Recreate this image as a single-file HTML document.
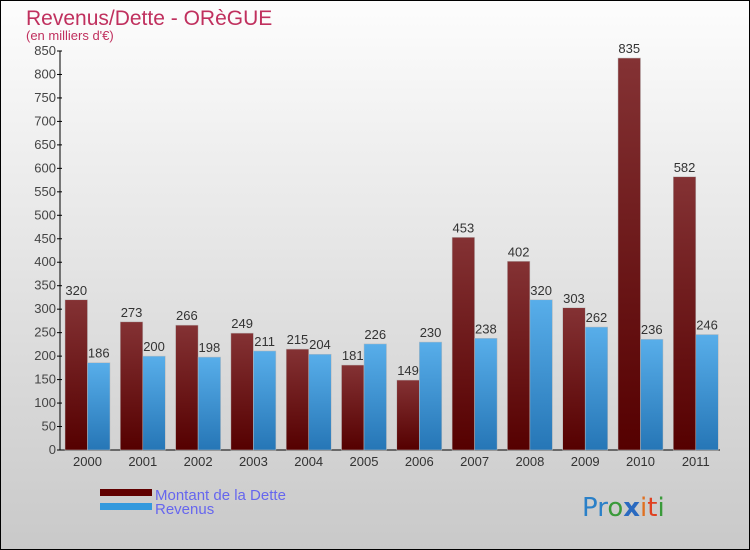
<!DOCTYPE html>
<html><head><meta charset="utf-8"><style>
body{margin:0}
svg{display:block;font-family:"Liberation Sans","DejaVu Sans",sans-serif}
</style></head><body>
<svg width="750" height="550">
<defs>
<linearGradient id="bg" x1="0" y1="0" x2="0" y2="1"><stop offset="0" stop-color="#fdfdfd"/><stop offset="1" stop-color="#c9c9c9"/></linearGradient>
<linearGradient id="gd" x1="0" y1="0" x2="0" y2="1"><stop offset="0" stop-color="#843234"/><stop offset="1" stop-color="#550000"/></linearGradient>
<linearGradient id="gr" x1="0" y1="0" x2="0" y2="1"><stop offset="0" stop-color="#58aeea"/><stop offset="1" stop-color="#2676b6"/></linearGradient>
</defs>
<rect x="0.5" y="0.5" width="749" height="549" fill="url(#bg)" stroke="#000"/>
<text x="26" y="25" font-size="21" fill="#c0305e">Revenus/Dette - ORèGUE</text>
<text x="26" y="40" font-size="13" fill="#c0305e">(en milliers d'€)</text>
<g id="plot"></g>
<rect x="100" y="489" width="52" height="7" fill="#600000"/>
<rect x="100" y="503" width="52" height="7" fill="#3399dd"/>
<text x="155" y="500" font-size="15" fill="#6666ee">Montant de la Dette</text>
<text x="155" y="514" font-size="15" fill="#6666ee">Revenus</text>
<text x="582" y="516" font-size="26" font-family="'DejaVu Sans',sans-serif"><tspan fill="#2a80c8">Pr</tspan><tspan fill="#3a9a3a">o</tspan><tspan fill="#2a6ac0" font-weight="bold">x</tspan><tspan fill="#e07020">i</tspan><tspan fill="#e04020">t</tspan><tspan fill="#3a9a3a">i</tspan></text>
</svg>
<script>
const years=["2000","2001","2002","2003","2004","2005","2006","2007","2008","2009","2010","2011"];
const dette=[320,273,266,249,215,181,149,453,402,303,835,582];
const revenus=[186,200,198,211,204,226,230,238,320,262,236,246];
const ticks=[0,50,100,150,200,250,300,350,400,450,500,550,600,650,700,750,800,850];
const NS="http://www.w3.org/2000/svg";
const g=document.getElementById('plot');
const y0=450,ymax=51,axX=60,step=55.3,bw=22.5,start=65;
const y=v=>y0-(v/850)*(y0-ymax);
function mk(t,a,txt){const e=document.createElementNS(NS,t);for(const k in a)e.setAttribute(k,a[k]);if(txt!==undefined)e.textContent=txt;g.appendChild(e);return e;}
let e=mk('line',{x1:axX,y1:y0,x2:720,y2:y0,stroke:'#000'});


e=mk('line',{x1:axX,y1:ymax,x2:axX,y2:y0,stroke:'#000'});


ticks.forEach(t=>{
 e=mk('line',{x1:axX-3,y1:y(t),x2:axX+2,y2:y(t),stroke:'#000'});
 
 
 e=mk('text',{x:axX-4,y:y(t)+4,'font-size':13,fill:'#444','text-anchor':'end'},t);
 
 
});
years.forEach((yr,i)=>{
 const x=start+i*step;
 e=mk('rect',{x:x,y:y(dette[i]),width:bw,height:y0-y(dette[i]),fill:'url(#gd)',stroke:'#bbb','stroke-width':0.5});
 
 
 e=mk('rect',{x:x+bw,y:y(revenus[i]),width:bw,height:y0-y(revenus[i]),fill:'url(#gr)',stroke:'#bbb','stroke-width':0.5});
 
 
 e=mk('text',{x:x+bw/2,y:y(dette[i])-5,'font-size':13,fill:'#333','text-anchor':'middle'},dette[i]);
 
 
 e=mk('text',{x:x+bw*1.5,y:y(revenus[i])-5,'font-size':13,fill:'#333','text-anchor':'middle'},revenus[i]);
 
 
 e=mk('text',{x:x+bw,y:y0+16,'font-size':13,fill:'#333','text-anchor':'middle'},yr);
 
 
});
</script>
</body></html>
